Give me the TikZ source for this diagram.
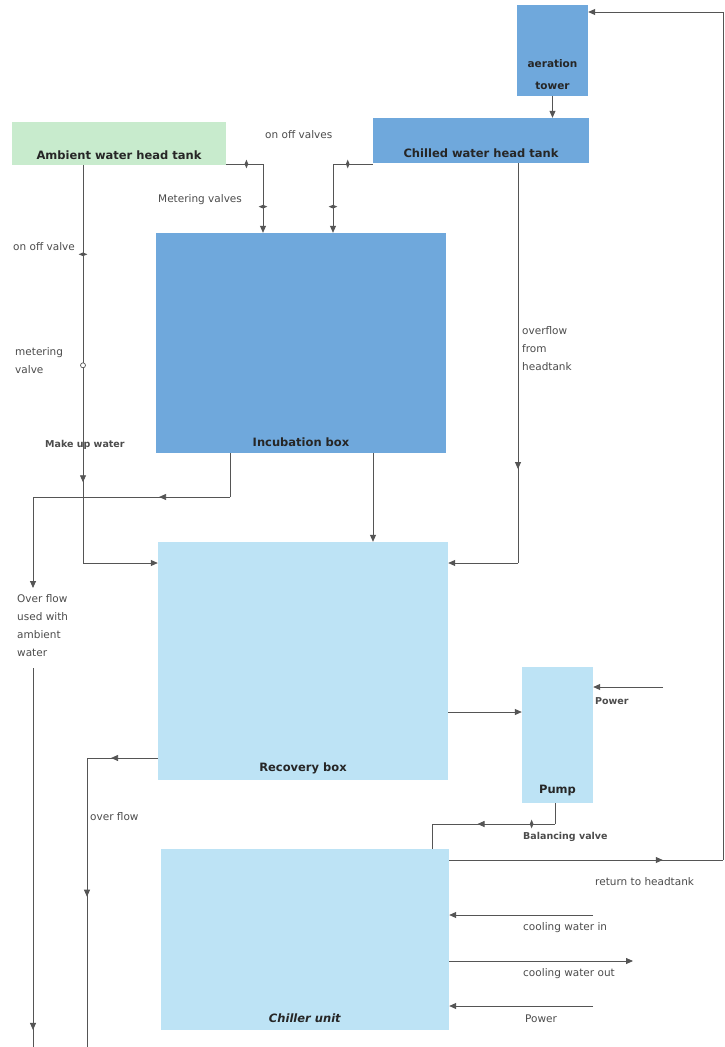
\documentclass[tikz,border=0pt]{standalone}
\usepackage{fontspec}
\setmainfont{DejaVu Sans}
\usetikzlibrary{arrows.meta,shapes.geometric,decorations.markings}
\definecolor{deepblue}{RGB}{111,168,220}
\definecolor{paleblue}{RGB}{189,227,245}
\definecolor{palegreen}{RGB}{200,235,205}
\definecolor{pipegray}{RGB}{85,85,85}
\tikzset{
  tank/.style={rectangle, fill=#1, inner sep=0pt},
  tanklabel/.style={font=\bfseries\fontsize{11.5}{13}\selectfont, anchor=south, text=black!85, inner sep=0pt},
  tag/.style={font=\fontsize{10.5}{12}\selectfont, text=black!70, inner sep=0pt, anchor=west},
  boldtag/.style={tag, font=\bfseries\fontsize{9.5}{11}\selectfont},
  pipe/.style={draw=pipegray, line width=0.8pt},
  tip/.style={-{Triangle[length=7pt,width=6pt]}},
  midtip/.style={postaction={decorate}, decoration={markings, mark=at position #1 with {\arrow{Triangle[length=7pt,width=6pt]}}}},
  hvalve/.style={diamond, fill=pipegray, inner sep=0pt, minimum width=4pt, minimum height=9pt},
  vvalve/.style={diamond, fill=pipegray, inner sep=0pt, minimum width=9pt, minimum height=4pt},
  meter/.style={circle, draw=pipegray, fill=white, line width=0.7pt, inner sep=0pt, minimum size=5pt},
}
\begin{document}
\begin{tikzpicture}[x=1pt, y=-1pt]
\fill[white] (0,0) rectangle (725,1047);
\useasboundingbox (0,0) rectangle (725,1047);

% tanks and boxes
\node[tank=deepblue, minimum width=71pt, minimum height=91pt,
  label={[tanklabel, align=center, yshift=6pt, font=\bfseries\fontsize{10.5}{22}\selectfont]south:aeration\\tower}] (tower) at (552.5,50.5) {};
\node[tank=deepblue, minimum width=216pt, minimum height=45pt,
  label={[tanklabel, yshift=5pt]south:Chilled water head tank}] (chilled) at (481,140.5) {};
\node[tank=palegreen, minimum width=214pt, minimum height=43pt,
  label={[tanklabel, yshift=5pt]south:Ambient water head tank}] (ambient) at (119,143.5) {};
\node[tank=deepblue, minimum width=290pt, minimum height=220pt,
  label={[tanklabel, yshift=6pt]south:Incubation box}] (incub) at (301,343) {};
\node[tank=paleblue, minimum width=290pt, minimum height=238pt,
  label={[tanklabel, yshift=6pt]south:Recovery box}] (recov) at (303,661) {};
\node[tank=paleblue, minimum width=71pt, minimum height=136pt,
  label={[tanklabel, yshift=7pt]south:Pump}] (pump) at (557.5,735) {};
\node[tank=paleblue, minimum width=288pt, minimum height=181pt,
  label={[tanklabel, yshift=7pt]south:\textit{Chiller unit}}] (chiller) at (305,939.5) {};

% return loop to aeration tower
\coordinate (loopbot) at (723,860);
\coordinate (looptop) at (723,12);
\draw[pipe, midtip=0.78] (chiller.east |- loopbot) -- (loopbot);
\draw[pipe] (loopbot) -- (looptop);
\draw[pipe, tip] (looptop) -- (tower.east |- looptop);
\draw[pipe, tip] (tower.south) -- (tower.south |- chilled.north);

% head tanks to incubation box
\coordinate (ambbend) at (263,164);
\draw[pipe] (ambient.east |- ambbend) -- node[hvalve, pos=0.55] (ambonoff) {} (ambbend);
\draw[pipe, tip] (ambbend) -- node[vvalve, pos=0.62] (ambmeter) {} (ambbend |- incub.north);
\coordinate (chillbend) at (333,164);
\draw[pipe] (chilled.west |- chillbend) -- node[hvalve, pos=0.63] (chillonoff) {} (chillbend);
\draw[pipe, tip] (chillbend) -- node[vvalve, pos=0.62] (chillmeter) {} (chillbend |- incub.north);

% make up water
\coordinate (makeup) at (83,563);
\draw[pipe, midtip=0.797] (makeup |- ambient.south) -- node[vvalve, pos=0.224] (leftonoff) {}
  node[meter, pos=0.503] (leftmeter) {} (makeup);
\draw[pipe, tip] (makeup) -- (recov.west |- makeup);

% incubation overflow
\coordinate (incout) at (230,497);
\coordinate (ambdrain) at (33,497);
\coordinate (draintip) at (33,588);
\draw[pipe] (incout |- incub.south) -- (incout);
\draw[pipe, midtip=0.36] (incout) -- (ambdrain);
\draw[pipe, tip] (ambdrain) -- (draintip);
\node[tag, anchor=north west, align=left, font=\fontsize{10.5}{18}\selectfont] (drainnote) at (17,594)
  {Over flow\\used with\\ambient\\water};
\coordinate (drainrest) at (33,668);
\coordinate (drainend) at (33,1047);
\draw[pipe, midtip=0.955] (drainrest) -- (drainend);

% incubation to recovery
\coordinate (incdrop) at (373,497);
\draw[pipe, tip] (incdrop |- incub.south) -- (incdrop |- recov.north);

% head tank overflow
\coordinate (hoflow) at (518,563);
\draw[pipe, midtip=0.765] (hoflow |- chilled.south) -- (hoflow);
\draw[pipe, tip] (hoflow) -- (recov.east |- hoflow);

% recovery to pump
\coordinate (pumpin) at (448,712);
\draw[pipe, tip] (recov.east |- pumpin) -- (pump.west |- pumpin);
\coordinate (pumppower) at (663,687);
\draw[pipe, tip] (pumppower) -- (pump.east |- pumppower);

% pump to chiller
\coordinate (pumpout) at (555,824);
\coordinate (chillin) at (432,824);
\draw[pipe] (pump.south -| pumpout) -- (pumpout);
\draw[pipe, midtip=0.63] (pumpout) -- node[hvalve, pos=0.19] (balance) {} (chillin);
\draw[pipe] (chillin) -- (chillin |- chiller.north);

% recovery overflow
\coordinate (recflow) at (87,758);
\coordinate (recflowend) at (87,1047);
\draw[pipe, midtip=0.66] (recov.west |- recflow) -- (recflow);
\draw[pipe, midtip=0.48] (recflow) -- (recflowend);

% chiller services
\coordinate (coolin) at (593,915);
\coordinate (coolout) at (633,961);
\coordinate (chillpower) at (593,1006);
\draw[pipe, tip] (coolin) -- (chiller.east |- coolin);
\draw[pipe, tip] (chiller.east |- coolout) -- (coolout);
\draw[pipe, tip] (chillpower) -- (chiller.east |- chillpower);

% labels
\node[tag] (onofftag) at (265,135) {on off valves};
\node[tag] (metertag) at (158,200) {Metering valves};
\node[tag] (leftonofftag) at (13,247) {on off valve};
\node[tag, align=left, anchor=north west, font=\fontsize{10.5}{18}\selectfont] (leftmetertag) at (15,347) {metering\\valve};
\node[boldtag] (makeuptag) at (45,445) {Make up water};
\node[tag, align=left, anchor=north west, font=\fontsize{10.5}{18}\selectfont] (overflowtag) at (522,326) {overflow\\from\\headtank};
\node[boldtag] (pumppowertag) at (595,701) {Power};
\node[tag] (recflowtag) at (90,817) {over flow};
\node[boldtag] (balancetag) at (523,837) {Balancing valve};
\node[tag] (returntag) at (595,882) {return to headtank};
\node[tag] (cointag) at (523,928) {cooling water in};
\node[tag] (coouttag) at (523,974) {cooling water out};
\node[tag] (chillpowertag) at (525,1019) {Power};
\end{tikzpicture}
\end{document}
